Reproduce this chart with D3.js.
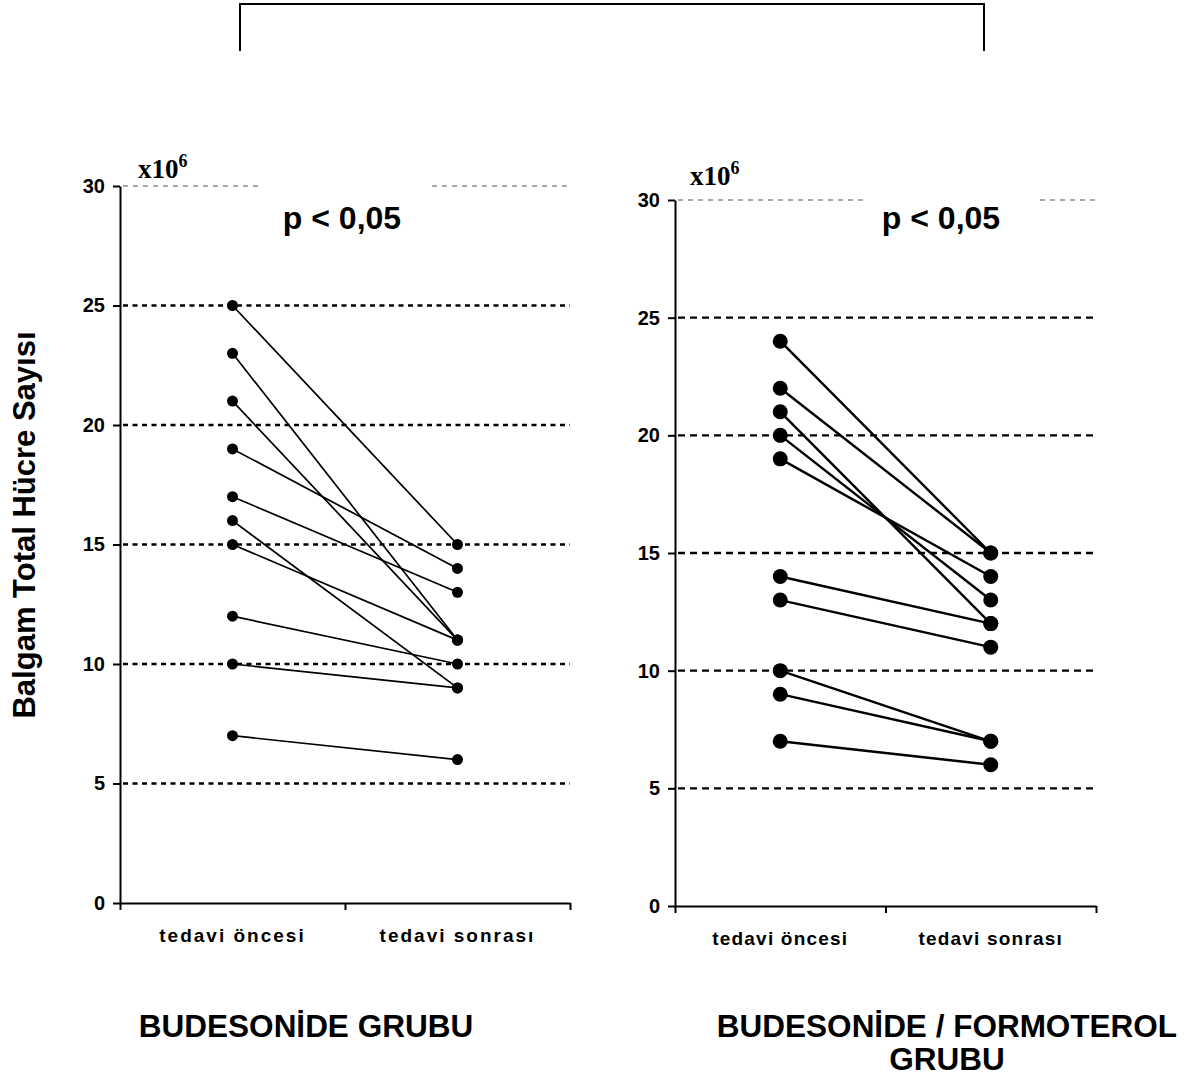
<!DOCTYPE html>
<meta charset="utf-8">
<style>
body { margin: 0; background: #fff; }
svg { display: block; font-family: "Liberation Sans", Arial, sans-serif; }
.axis path, .axis line { stroke: #000; stroke-width: 2; }
.axis text { font-size: 20px; font-weight: bold; fill: #000; }
.grid { stroke: #000; stroke-width: 2.3; }
.topGrid { stroke: #555; stroke-width: 1.2; stroke-dasharray: 5,5; }
.pair { stroke: #000; fill: none; }
.dot { fill: #000; }
.catLabel { font-size: 19px; font-weight: bold; text-anchor: middle; }
.pval { font-size: 32px; font-weight: bold; text-anchor: middle; }
.unit { font-family: "Liberation Serif", "Times New Roman", serif; font-weight: bold; font-size: 27px; }
.group { font-size: 31.5px; font-weight: bold; text-anchor: middle; }
.ytitle { font-size: 31px; font-weight: bold; text-anchor: middle; }
</style>
<svg width="1191" height="1077"></svg>
<script src="https://d3js.org/d3.v7.min.js"></script>
<script>

// categories and tick values
var categories = ["tedavi öncesi", "tedavi sonrası"];
var yTicks = [0, 5, 10, 15, 20, 25, 30];
var gridTicks = [5, 10, 15, 20, 25];

// budesonide group (x10^6 cells), paired pre / post
var budPre  = [25, 23, 21, 19, 17, 16, 15, 12, 10, 7];
var budPost = [15, 11, 11, 14, 13,  9, 11, 10,  9, 6];

// budesonide / formoterol group
var bfPre  = [24, 22, 21, 20, 19, 14, 13, 10, 9, 7];
var bfPost = [15, 15, 12, 13, 14, 12, 11,  7, 7, 6];

var svg = d3.select("svg");

// bracket on top
svg.append("path")
  .attr("d", "M240,51V4H984V51")
  .attr("fill", "none")
  .attr("stroke", "#000")
  .attr("stroke-width", 2);

svg.append("text")
  .attr("class", "ytitle")
  .attr("transform", "translate(35,525) rotate(-90)")
  .text("Balgam Total Hücre Sayısı");

drawPanel({
  left: 120, right: 570, top: 186, bottom: 903,
  pre: budPre, post: budPost,
  r: 5.5, lw: 1.7, dash: "5,4.5",
  gap: [262, 432], pX: 342, pY: 229,
  unitX: 138, unitY: 178,
  catSpacing: 2, catDy: 39,
  title: ["BUDESONİDE GRUBU"], titleX: 306, titleY: 1037
});

drawPanel({
  left: 675, right: 1096, top: 200, bottom: 906,
  pre: bfPre, post: bfPost,
  r: 7.5, lw: 2.4, dash: "7,5",
  gap: [866, 1040], pX: 941, pY: 229,
  unitX: 690, unitY: 185,
  catSpacing: 1.2, catDy: 39,
  title: ["BUDESONİDE / FORMOTEROL", "GRUBU"], titleX: 947, titleY: 1037
});

function drawPanel(c) {
  var y = d3.scaleLinear().domain([0, 30]).range([c.bottom, c.top]);
  var x = d3.scaleBand().domain(categories).range([c.left, c.right]);
  var xTicks = d3.scaleLinear().domain([0, 2]).range([c.left, c.right]);
  var g = svg.append("g");

  // dashed grid
  g.selectAll(".grid")
    .data(gridTicks)
    .join("line")
    .attr("class", "grid")
    .attr("stroke-dasharray", c.dash)
    .attr("x1", c.left + 3)
    .attr("x2", c.right)
    .attr("y1", d => y(d))
    .attr("y2", d => y(d));

  // thin top line, interrupted around the p value box
  [[c.left + 3, c.gap[0]], [c.gap[1], c.right]].forEach(seg => {
    g.append("line")
      .attr("class", "topGrid")
      .attr("x1", seg[0]).attr("x2", seg[1])
      .attr("y1", y(30)).attr("y2", y(30));
  });

  g.append("g")
    .attr("class", "axis")
    .attr("transform", "translate(" + c.left + ",0)")
    .call(d3.axisLeft(y).tickValues(yTicks).tickSize(7).tickPadding(8).tickSizeOuter(0));

  g.append("g")
    .attr("class", "axis")
    .attr("transform", "translate(0," + c.bottom + ")")
    .call(d3.axisBottom(xTicks).tickValues([0, 1, 2]).tickSize(7).tickSizeOuter(0).tickFormat(""));

  g.selectAll(".catLabel")
    .data(categories)
    .join("text")
    .attr("class", "catLabel")
    .attr("letter-spacing", c.catSpacing)
    .attr("x", d => x(d) + x.bandwidth() / 2)
    .attr("y", c.bottom + c.catDy)
    .text(d => d);

  var cx = d => x(d) + x.bandwidth() / 2;
  var pairs = c.pre.map((v, i) => [v, c.post[i]]);

  g.selectAll(".pair")
    .data(pairs)
    .join("line")
    .attr("class", "pair")
    .attr("stroke-width", c.lw)
    .attr("x1", cx(categories[0]))
    .attr("x2", cx(categories[1]))
    .attr("y1", d => y(d[0]))
    .attr("y2", d => y(d[1]));

  var dots = [];
  pairs.forEach(p => {
    dots.push({ cat: categories[0], v: p[0] });
    dots.push({ cat: categories[1], v: p[1] });
  });
  g.selectAll(".dot")
    .data(dots)
    .join("circle")
    .attr("class", "dot")
    .attr("r", c.r)
    .attr("cx", d => cx(d.cat))
    .attr("cy", d => y(d.v));

  g.append("text")
    .attr("class", "pval")
    .attr("x", c.pX)
    .attr("y", c.pY)
    .text("p < 0,05");

  var u = g.append("text")
    .attr("class", "unit")
    .attr("x", c.unitX)
    .attr("y", c.unitY);
  u.append("tspan").text("x10");
  u.append("tspan").attr("dy", -11).attr("font-size", 18).text("6");

  c.title.forEach((t, i) => {
    g.append("text")
      .attr("class", "group")
      .attr("x", c.titleX)
      .attr("y", c.titleY + i * 33)
      .text(t);
  });
}
</script>
